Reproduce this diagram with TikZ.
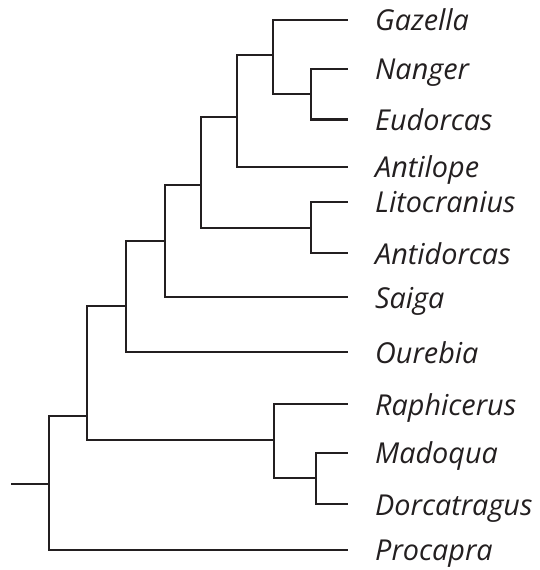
\documentclass[tikz,border=0pt]{standalone}
\usepackage{fontspec}
\setmainfont{Open Sans}
\definecolor{ink}{HTML}{231F20}
\begin{document}
\begin{tikzpicture}[x=1pt,y=-1pt,
  br/.style={draw=ink,line width=2.1pt,line cap=rect,line join=miter},
  lab/.style={anchor=base west,inner sep=0pt,text=ink,font=\fontsize{28.8}{30}\selectfont\itshape}]
\useasboundingbox (0,0) rectangle (539,570);
% leaf tips
\coordinate (G) at (347,20);
\coordinate (N) at (347,69);
\coordinate (E) at (347,119.5);
\coordinate (A) at (347,167);
\coordinate (L) at (347,201.7);
\coordinate (Ad) at (347,253.3);
\coordinate (S) at (347,297.3);
\coordinate (O) at (347,352.3);
\coordinate (R) at (347,404.3);
\coordinate (M) at (347,452.7);
\coordinate (D) at (347,504.3);
\coordinate (P) at (347,550);
% internal nodes
\coordinate (nNE) at (311,94);
\coordinate (nGNE) at (273,55);
\coordinate (nGA) at (237,117);
\coordinate (nLA) at (311,227.7);
\coordinate (n1) at (201,185);
\coordinate (n2) at (165,241);
\coordinate (n3) at (126,306);
\coordinate (nMD) at (316,477.7);
\coordinate (nR) at (274,440);
\coordinate (n4) at (87,415.7);
\coordinate (root) at (49,484.3);
\coordinate (stub) at (12,484.3);
% branches
\draw[br] (N) -| (nNE) |- (E);
\draw[br] (G) -| (nGNE) |- (nNE);
\draw[br] (nGNE) -| (nGA) |- (A);
\draw[br] (L) -| (nLA) |- (Ad);
\draw[br] (nGA) -| (n1) |- (nLA);
\draw[br] (n1) -| (n2) |- (S);
\draw[br] (n2) -| (n3) |- (O);
\draw[br] (M) -| (nMD) |- (D);
\draw[br] (R) -| (nR) |- (nMD);
\draw[br] (n3) -| (n4) |- (nR);
\draw[br] (n4) -| (root) |- (P);
\draw[br] (stub) -- (root);
% labels
\node[lab] (tG) at (375,30.8) {Gazella};
\node[lab] (tN) at (375,79.8) {Nanger};
\node[lab] (tE) at (375,130.3) {Eudorcas};
\node[lab] (tA) at (375,177.8) {Antilope};
\node[lab] (tL) at (375,212.5) {Litocranius};
\node[lab] (tAd) at (375,264.1) {Antidorcas};
\node[lab] (tS) at (375,308.1) {Saiga};
\node[lab] (tO) at (375,363.1) {Ourebia};
\node[lab] (tR) at (375,415.1) {Raphicerus};
\node[lab] (tM) at (375,463.5) {Madoqua};
\node[lab] (tD) at (375,515.1) {Dorcatragus};
\node[lab] (tP) at (375,560.8) {Procapra};
\end{tikzpicture}
\end{document}
